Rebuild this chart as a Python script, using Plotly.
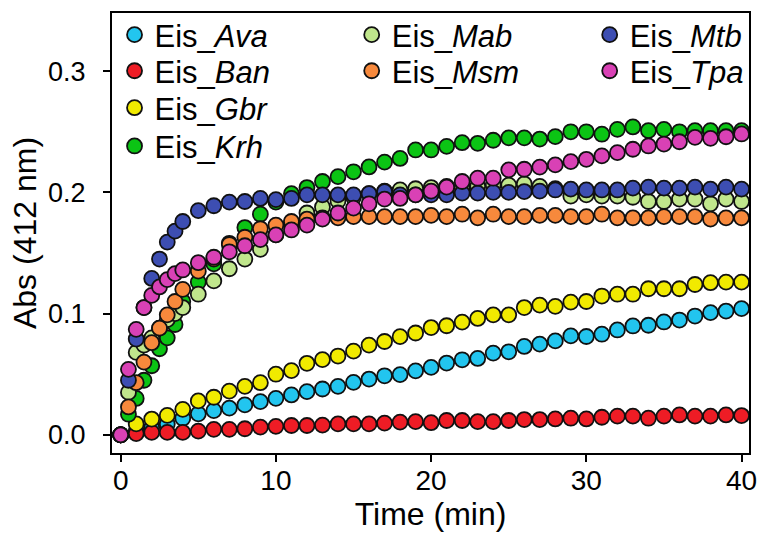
import plotly.graph_objects as go

# time points (min)
time_fast = [0, 0.5, 1, 1.5, 2, 2.5, 3, 3.5, 4, 5, 6, 7, 8, 9, 10, 11, 12, 13, 14, 15,
             16, 17, 18, 19, 20, 21, 22, 23, 24, 25, 26, 27, 28, 29, 30, 31, 32, 33,
             34, 35, 36, 37, 38, 39, 40]
time_slow = [0, 1, 2, 3, 4, 5, 6, 7, 8, 9, 10, 11, 12, 13, 14, 15, 16, 17, 18, 19, 20,
             21, 22, 23, 24, 25, 26, 27, 28, 29, 30, 31, 32, 33, 34, 35, 36, 37, 38, 39, 40]

# Abs (412 nm)
eis_ava = [0, .003, .006, .009, .0137, .0173, .020, .022, .0247, .0274, .0301, .0329, .0356,
           .0378, .040, .0433, .046, .0487, .0497, .0528, .0556, .0592, .0619, .063, .0674,
           .0685, .0729, .0748, .0775, .0816, .0811, .083, .0865, .0898, .0904, .0931, .0947,
           .098, .1008, .1021, .1041]
eis_ban = [0, .001, .002, .002, .002, .003, .0045, .0045, .005, .0063, .007, .0077, .0077,
           .008, .009, .009, .009, .0096, .0105, .0109, .0100, .0118, .0118, .0109, .0109,
           .0118, .0126, .0126, .0131, .0137, .0131, .0145, .0154, .0154, .0137, .0154,
           .0164, .0154, .0154, .0164, .0159]
eis_gbr = [0, .009, .013, .016, .021, .028, .031, .036, .040, .043, .050, .053, .059, .062,
           .065, .069, .074, .077, .081, .084, .0885, .090, .093, .096, .099, .099, .105,
           .107, .106, .1095, .110, .1145, .116, .116, .1205, .1205, .1205, .124, .1255,
           .126, .126]
eis_krh = [0, .017, .030, .045, .057, .071, .080, .091, .110, .126, .141, .158, .171, .182,
           .192, .199, .204, .209, .213, .217, .221, .225, .228, .235, .235, .238, .241,
           .2405, .243, .245, .245, .244, .246, .250, .250, .248, .252, .254, .251, .252,
           .250, .251, .251, .251, .251]
eis_mab = [0, .035, .068, .074, .080, .088, .095, .100, .105, .116, .127, .137, .145, .153,
           .165, .175, .183, .188, .193, .196, .199, .201, .202, .203, .204, .205, .204,
           .205, .206, .206, .207, .205, .203, .197, .198, .197, .197, .196, .1925, .1925,
           .1945, .1945, .1906, .1945, .1925]
eis_msm = [0, .023, .043, .060, .076, .088, .099, .110, .120, .135, .145, .157, .163, .170,
           .173, .176, .178, .179, .179, .180, .180, .180, .180, .180, .181, .180, .182,
           .179, .182, .180, .180, .181, .181, .180, .180, .182, .179, .179, .179, .180,
           .180, .180, .178, .179, .179]
eis_mtb = [0, .045, .079, .105, .129, .145, .159, .168, .176, .185, .189, .192, .1925, .195,
           .194, .195, .198, .198, .198, .198, .199, .2007, .198, .198, .198, .198, .1994,
           .1994, .200, .200, .2007, .201, .202, .2027, .202, .202, .202, .2035, .2043,
           .2035, .2035, .2043, .2027, .2043, .2027]
eis_tpa = [0, .054, .087, .105, .115, .122, .128, .133, .136, .142, .1465, .151, .156, .161,
           .165, .169, .173, .178, .183, .187, .1906, .1945, .195, .198, .201, .2043, .209,
           .2117, .2117, .2186, .2191, .2208, .2227, .2254, .2273, .2301, .2328, .2356,
           .2383, .2399, .2418, .2454, .2446, .2459, .2482]

# (legend label, times, values, colour, legend column, legend row)
series = [
    ("Eis_<i>Ava</i>", time_slow, eis_ava, "#22C5EF", 0, 0),
    ("Eis_<i>Ban</i>", time_slow, eis_ban, "#EE1C25", 0, 1),
    ("Eis_<i>Gbr</i>", time_slow, eis_gbr, "#F1EA00", 0, 2),
    ("Eis_<i>Krh</i>", time_fast, eis_krh, "#0BC414", 0, 3),
    ("Eis_<i>Mab</i>", time_fast, eis_mab, "#C0E68C", 1, 0),
    ("Eis_<i>Msm</i>", time_fast, eis_msm, "#F7893C", 1, 1),
    ("Eis_<i>Mtb</i>", time_fast, eis_mtb, "#3D4EB2", 2, 0),
    ("Eis_<i>Tpa</i>", time_fast, eis_tpa, "#D941B5", 2, 1),
]

# legend grid placement (paper coordinates)
legend_col_x = [0.004, 0.3763, 0.7499]
legend_row_y = [0.950, 0.868, 0.784, 0.697]

FONT = "Liberation Sans, Arial, sans-serif"

fig = go.Figure()
legend_layouts = {}
for i, (name, t, v, color, col, row) in enumerate(series):
    key = "legend" if i == 0 else f"legend{i + 1}"
    fig.add_trace(go.Scatter(
        x=t, y=v, mode="markers", name=name, legend=key,
        marker=dict(size=15, color=color, line=dict(color="#111111", width=1.8)),
    ))
    legend_layouts[key] = dict(
        x=legend_col_x[col], y=legend_row_y[row], xanchor="left", yanchor="middle",
        bgcolor="rgba(0,0,0,0)", borderwidth=0,
        font=dict(family=FONT, size=31, color="black"),
        itemwidth=30, tracegroupgap=0,
    )

fig.update_layout(
    width=762, height=536,
    margin=dict(l=112, r=13, t=13, b=83, autoexpand=False),
    paper_bgcolor="white", plot_bgcolor="white",
    font=dict(family=FONT, color="black"),
    showlegend=True,
    **legend_layouts,
    xaxis=dict(
        range=[-0.56, 40.48], tickmode="array", tickvals=[0, 10, 20, 30, 40],
        ticks="outside", ticklen=7, tickwidth=1.5, tickcolor="black",
        showline=True, linecolor="black", linewidth=2, mirror=True,
        showgrid=False, zeroline=False, ticklabelstandoff=-6,
        tickfont=dict(family=FONT, size=28, color="black"),
        title=dict(text="Time (min)", font=dict(family=FONT, size=32, color="black"), standoff=4),
    ),
    yaxis=dict(
        range=[-0.015, 0.348], tickmode="array", tickvals=[0.0, 0.1, 0.2, 0.3],
        tickformat=".1f",
        ticks="outside", ticklen=7, tickwidth=1.5, tickcolor="black",
        showline=True, linecolor="black", linewidth=2, mirror=True,
        showgrid=False, zeroline=False, ticklabelstandoff=12,
        tickfont=dict(family=FONT, size=27, color="black"),
        title=dict(text="Abs (412 nm)", font=dict(family=FONT, size=32, color="black"), standoff=2),
    ),
)

fig.write_html("out.html", config={"displayModeBar": False},
               post_script="document.body.style.margin='0';")
